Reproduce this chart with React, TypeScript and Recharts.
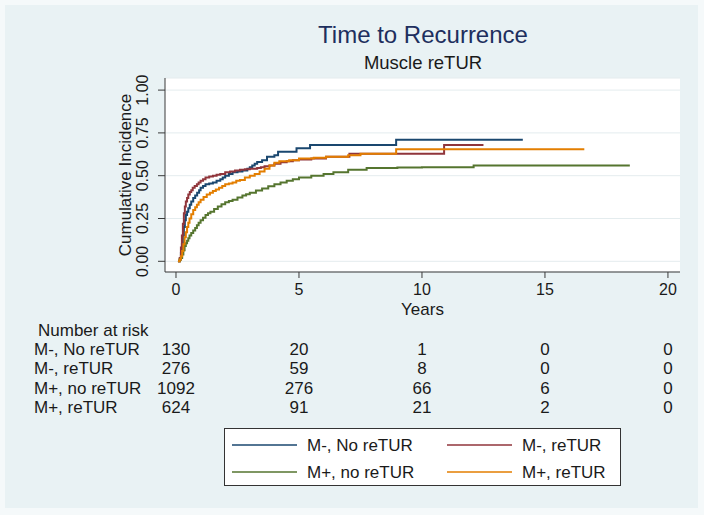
import React from 'react';
import { LineChart, Line, XAxis, YAxis, CartesianGrid, Legend, Label } from 'recharts';

// ---------- data ----------
const xTicks = [0, 5, 10, 15, 20];
const yTicks = [0, 0.25, 0.5, 0.75, 1];

const seriesNames = ['M-, No reTUR', 'M-, reTUR', 'M+, no reTUR', 'M+, reTUR'];
const seriesColors = ['#1a476f', '#90353b', '#55752f', '#e37e00'];

// M-, No reTUR
const mMinusNoReturTime = [0.08, 0.15, 0.2, 0.24, 0.28, 0.32, 0.36, 0.4, 0.45, 0.5, 0.56, 0.62, 0.7, 0.78, 0.86, 0.94, 1.0, 1.1, 1.2, 1.35, 1.5, 1.65, 1.8, 1.9, 2.0, 2.15, 2.3, 2.5, 2.7, 2.9, 3.0, 3.1, 3.2, 3.3, 3.5, 3.7, 4.0, 4.15, 4.9, 5.45, 8.95, 14.1];
const mMinusNoReturCI = [0.0, 0.01, 0.05, 0.1, 0.15, 0.2, 0.24, 0.27, 0.29, 0.31, 0.33, 0.35, 0.37, 0.385, 0.4, 0.415, 0.43, 0.44, 0.45, 0.455, 0.46, 0.47, 0.48, 0.49, 0.5, 0.51, 0.52, 0.525, 0.53, 0.54, 0.55, 0.56, 0.57, 0.58, 0.59, 0.61, 0.62, 0.64, 0.66, 0.68, 0.71, 0.71];

// M-, reTUR
const mMinusReturTime = [0.08, 0.15, 0.2, 0.24, 0.28, 0.32, 0.36, 0.4, 0.45, 0.5, 0.56, 0.62, 0.68, 0.76, 0.85, 0.92, 1.0, 1.1, 1.2, 1.35, 1.5, 1.65, 1.8, 2.0, 2.2, 2.4, 2.6, 2.8, 3.0, 3.3, 3.45, 3.6, 3.8, 4.0, 4.25, 4.5, 4.75, 5.0, 5.5, 6.1, 7.05, 10.9, 12.5];
const mMinusReturCI = [0.0, 0.02, 0.08, 0.15, 0.22, 0.28, 0.32, 0.35, 0.37, 0.39, 0.405, 0.415, 0.43, 0.44, 0.45, 0.46, 0.47, 0.48, 0.49, 0.495, 0.5, 0.505, 0.51, 0.52, 0.525, 0.53, 0.535, 0.537, 0.54, 0.545, 0.55, 0.555, 0.56, 0.57, 0.578, 0.585, 0.59, 0.595, 0.6, 0.61, 0.628, 0.68, 0.68];

// M+, no reTUR
const mPlusNoReturTime = [0.08, 0.15, 0.2, 0.25, 0.3, 0.35, 0.4, 0.45, 0.5, 0.55, 0.62, 0.7, 0.78, 0.85, 0.92, 1.0, 1.1, 1.2, 1.3, 1.4, 1.55, 1.7, 1.85, 2.0, 2.15, 2.3, 2.5, 2.7, 2.85, 3.0, 3.25, 3.5, 3.75, 4.0, 4.25, 4.5, 4.75, 5.0, 5.5, 6.0, 6.4, 7.0, 7.75, 9.0, 10.0, 12.1, 18.45];
const mPlusNoReturCI = [0.0, 0.01, 0.02, 0.04, 0.065, 0.09, 0.105, 0.12, 0.135, 0.15, 0.165, 0.18, 0.195, 0.21, 0.225, 0.24, 0.255, 0.27, 0.28, 0.29, 0.305, 0.32, 0.333, 0.345, 0.352, 0.36, 0.372, 0.385, 0.392, 0.4, 0.413, 0.425, 0.438, 0.45, 0.46, 0.47, 0.48, 0.49, 0.5, 0.51, 0.52, 0.535, 0.545, 0.548, 0.55, 0.56, 0.56];

// M+, reTUR
const mPlusReturTime = [0.08, 0.15, 0.2, 0.25, 0.3, 0.35, 0.4, 0.45, 0.5, 0.55, 0.62, 0.7, 0.78, 0.85, 0.92, 1.0, 1.12, 1.25, 1.38, 1.5, 1.62, 1.75, 1.88, 2.0, 2.15, 2.3, 2.45, 2.6, 2.8, 3.0, 3.2, 3.4, 3.6, 3.8, 4.0, 4.2, 4.6, 5.0, 5.6, 6.1, 7.0, 7.5, 8.95, 16.6];
const mPlusReturCI = [0.0, 0.01, 0.03, 0.06, 0.1, 0.14, 0.17, 0.2, 0.225, 0.25, 0.275, 0.3, 0.315, 0.33, 0.345, 0.36, 0.375, 0.39, 0.4, 0.41, 0.42, 0.43, 0.44, 0.45, 0.455, 0.46, 0.47, 0.475, 0.49, 0.5, 0.51, 0.525, 0.54, 0.56, 0.575, 0.585, 0.59, 0.6, 0.605, 0.61, 0.62, 0.628, 0.655, 0.655];

// Number at risk (at 0, 5, 10, 15, 20 years)
const atRiskMMinusNoRetur = [130, 20, 1, 0, 0];
const atRiskMMinusRetur = [276, 59, 8, 0, 0];
const atRiskMPlusNoRetur = [1092, 276, 66, 6, 0];
const atRiskMPlusRetur = [624, 91, 21, 2, 0];

const toRows = (ts: number[], vs: number[]) => ts.map((t, i) => ({ t, ci: vs[i] }));

const seriesData = [
  toRows(mMinusNoReturTime, mMinusNoReturCI),
  toRows(mMinusReturTime, mMinusReturCI),
  toRows(mPlusNoReturTime, mPlusNoReturCI),
  toRows(mPlusReturTime, mPlusReturCI),
];
const atRiskRows = [atRiskMMinusNoRetur, atRiskMMinusRetur, atRiskMPlusNoRetur, atRiskMPlusRetur];

// ---------- styling ----------
const FONT = '"Liberation Sans", Arial, Helvetica, sans-serif';
const TEXT = '#1a1a1a';
const AXIS = '#3a3a3a';

const rowOffsets = [73, 92, 112, 131]; // baselines of at-risk rows relative to tick label anchor

const XTick = (props: any) => {
  const { x, y, payload } = props;
  const i = xTicks.indexOf(payload.value);
  return (
    <g fontFamily={FONT} fill={TEXT}>
      <text x={x} y={y + 13} textAnchor="middle" fontSize={16} fill={TEXT}>
        {payload.value}
      </text>
      {atRiskRows.map((row, r) => (
        <text key={r} x={x} y={y + rowOffsets[r]} textAnchor="middle" fontSize={17} fill={TEXT}>
          {row[i]}
        </text>
      ))}
    </g>
  );
};

const YTick = (props: any) => {
  const { x, y, payload } = props;
  return (
    <text
      x={x}
      y={y}
      transform={`rotate(-90 ${x} ${y})`}
      textAnchor="middle"
      fontSize={16}
      fontFamily={FONT}
      fill={TEXT}
    >
      {Number(payload.value).toFixed(2)}
    </text>
  );
};

const YLabel = (props: any) => {
  const vb = props.viewBox || {};
  const x = (vb.x ?? 105) + 26;
  const y = (vb.y ?? 78) + (vb.height ?? 194) / 2;
  return (
    <text x={x} y={y} transform={`rotate(-90 ${x} ${y})`} textAnchor="middle" fontSize={17} fontFamily={FONT} fill={TEXT}>
      Cumulative Incidence
    </text>
  );
};

const XLabel = (props: any) => {
  const vb = props.viewBox || {};
  const cx = (vb.x ?? 165) + (vb.width ?? 515) / 2;
  const top = vb.y ?? 272;
  return (
    <g fontFamily={FONT} fill={TEXT}>
      <text x={cx} y={top + 43} textAnchor="middle" fontSize={17} fill={TEXT}>
        Years
      </text>
      <text x={38} y={top + 64} fontSize={17} fill={TEXT}>
        Number at risk
      </text>
      {seriesNames.map((n, r) => (
        <text key={n} x={34} y={top + 10 + rowOffsets[r]} fontSize={17} fill={TEXT}>
          {n}
        </text>
      ))}
    </g>
  );
};

const LegendBox = () => {
  const cols = [0, 215];
  const rows = [17, 44];
  return (
    <svg width={397} height={58} style={{ display: 'block' }}>
      <rect x={0.5} y={0.5} width={396} height={57} fill="#ffffff" stroke="#333" strokeWidth={1} />
      {seriesNames.map((n, i) => {
        const cx = cols[i % 2];
        const cy = rows[Math.floor(i / 2)];
        return (
          <g key={n}>
            <line x1={cx + 8} x2={cx + 73} y1={cy} y2={cy} stroke={seriesColors[i]} strokeWidth={1.6} />
            <text x={cx + 83} y={cy + 6} fontSize={17} fontFamily={FONT} fill={TEXT}>
              {n}
            </text>
          </g>
        );
      })}
    </svg>
  );
};

export default function App() {
  return (
    <div style={{ position: 'absolute', left: 0, top: 0, width: 704, height: 515, background: '#f5f9fa' }}>
      <div style={{ position: 'absolute', left: 5, top: 5, width: 693, height: 503, background: '#e9f2f4' }} />
      <svg width={704} height={90} style={{ position: 'absolute', left: 0, top: 0 }}>
        <text x={423} y={43} textAnchor="middle" fontSize={24} fontFamily={FONT} fill="#1e2f5e">
          Time to Recurrence
        </text>
        <text x={423} y={69} textAnchor="middle" fontSize={18.5} fontFamily={FONT} fill={TEXT}>
          Muscle reTUR
        </text>
      </svg>
      <div style={{ position: 'absolute', left: 0, top: 0 }}>
        <LineChart width={704} height={515} margin={{ top: 78, right: 24, left: 105, bottom: 213 }}>
          <CartesianGrid horizontal vertical={false} stroke="#e4ecee" strokeWidth={1} fill="#ffffff" />
          <XAxis
            type="number"
            dataKey="t"
            domain={[-0.447, 20.49]}
            allowDataOverflow
            ticks={xTicks}
            interval={0}
            height={30}
            tickSize={6}
            tickMargin={4}
            stroke={AXIS}
            tick={<XTick />}
          >
            <Label content={<XLabel />} />
          </XAxis>
          <YAxis
            type="number"
            domain={[-0.0625, 1.0707]}
            allowDataOverflow
            ticks={yTicks}
            interval={0}
            width={60}
            tickSize={7}
            tickMargin={10}
            stroke={AXIS}
            tick={<YTick />}
          >
            <Label content={<YLabel />} />
          </YAxis>
          {seriesData.map((d, i) => (
            <Line
              key={seriesNames[i]}
              data={d}
              dataKey="ci"
              name={seriesNames[i]}
              type="stepAfter"
              stroke={seriesColors[i]}
              strokeWidth={2}
              dot={false}
              activeDot={false}
              isAnimationActive={false}
            />
          ))}
          <Legend
            layout="horizontal"
            verticalAlign="middle"
            align="center"
            content={<LegendBox />}
            wrapperStyle={{ position: 'absolute', left: 224, top: 428, width: 397, height: 58 }}
          />
        </LineChart>
      </div>
    </div>
  );
}
